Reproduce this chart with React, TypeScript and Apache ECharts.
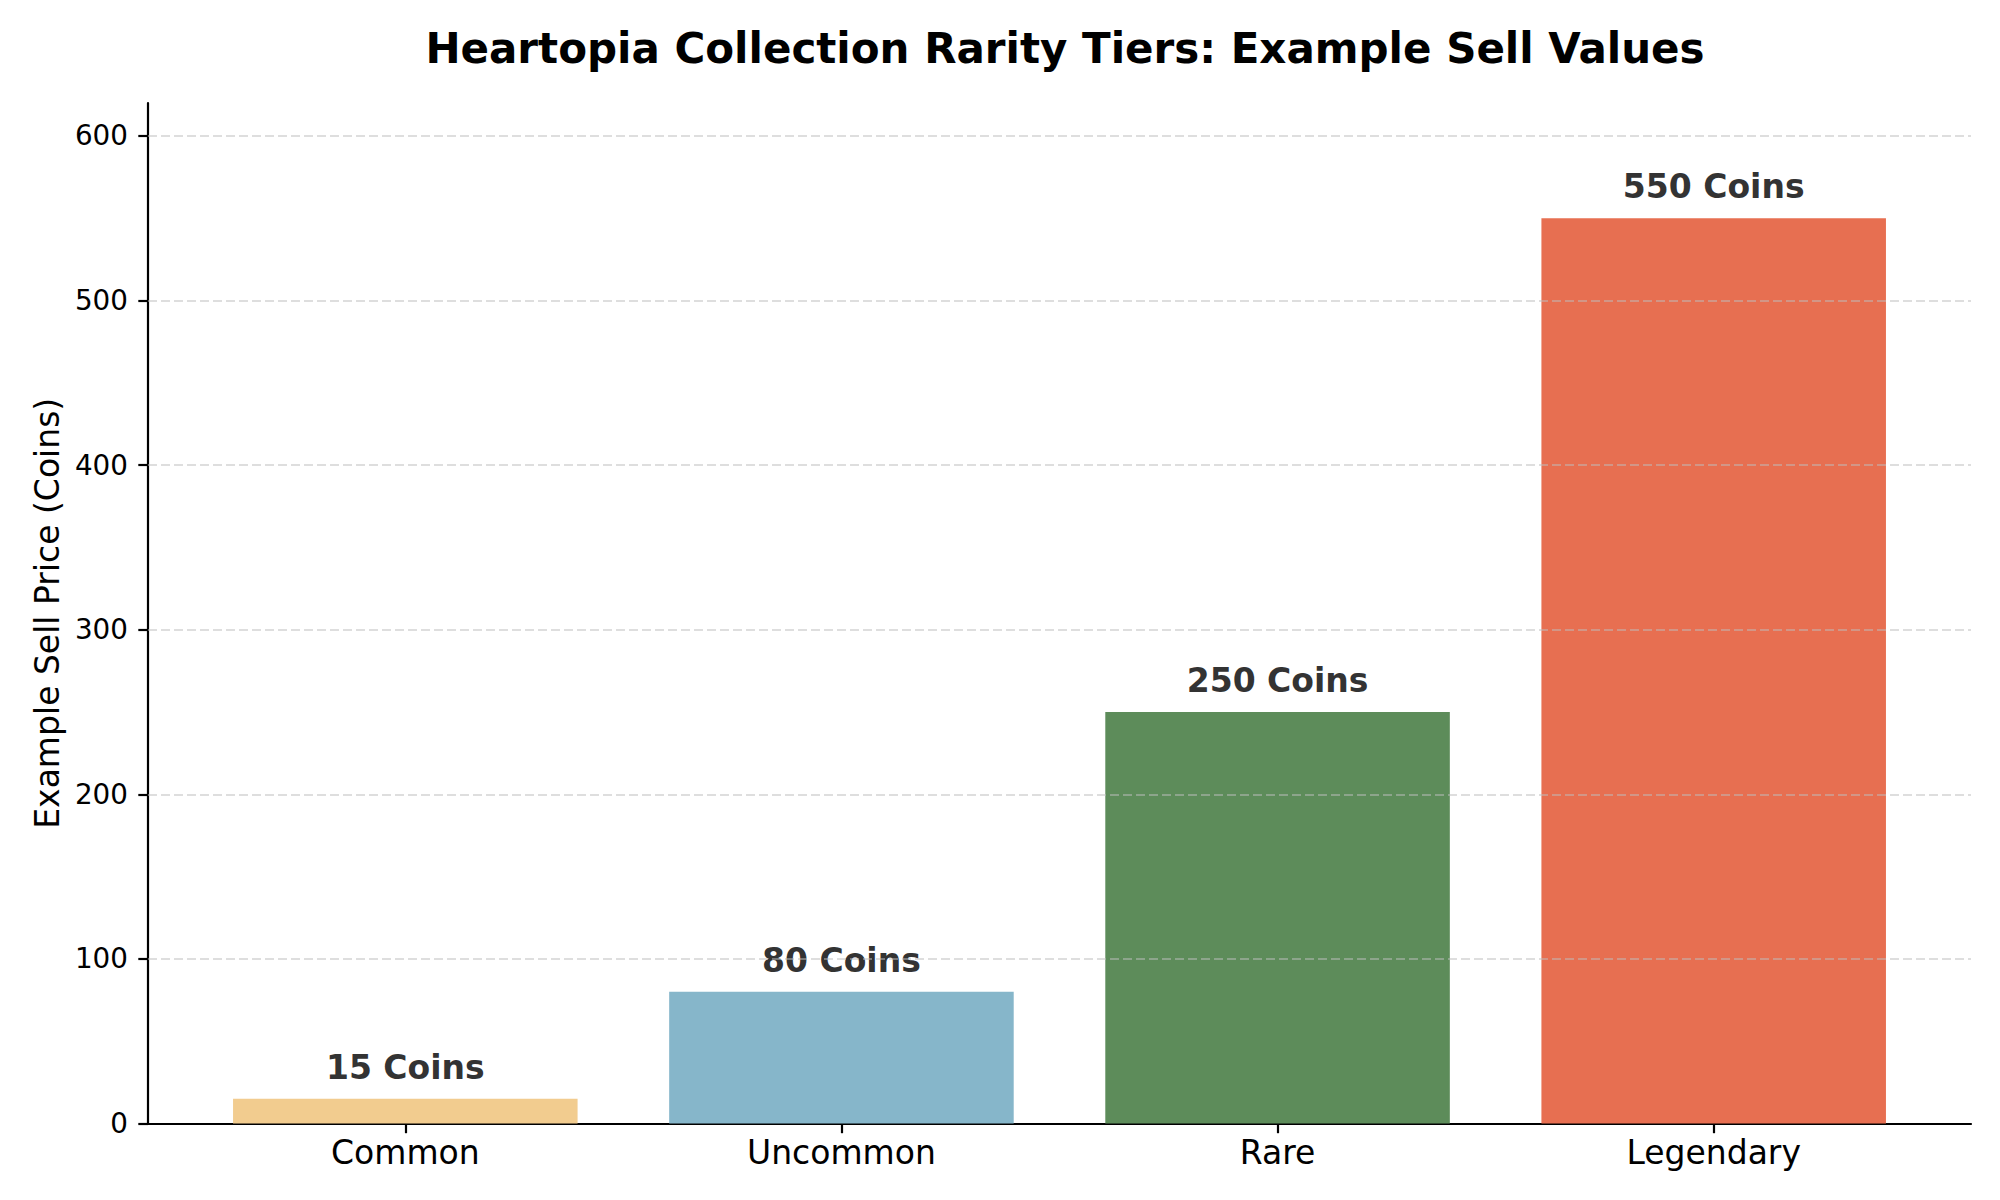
import { useEffect, useRef } from 'react';
import * as echarts from 'echarts';

const categories = ['Common', 'Uncommon', 'Rare', 'Legendary'];
const sellValues = [15, 80, 250, 550];
const barColors = ['#F2CC8F', '#86B6CA', '#5D8C5A', '#E76F51'];
const yTicks = [0, 100, 200, 300, 400, 500, 600];
const xTicks = [0, 1, 2, 3];

const FONT = 'DejaVu Sans';

export default function App() {
  const chartRef = useRef<HTMLDivElement>(null);

  useEffect(() => {
    document.body.style.margin = '0';
    if (!chartRef.current) return;
    const chart = echarts.init(chartRef.current, null, { renderer: 'svg' });

    const option: echarts.EChartsOption = {
      animation: false,
      backgroundColor: '#ffffff',
      textStyle: { fontFamily: FONT },
      title: {
        text: 'Heartopia Collection Rarity Tiers: Example Sell Values',
        left: 1060,
        top: 22,
        textAlign: 'center',
        textStyle: { fontFamily: FONT, fontSize: 42, fontWeight: 'bold', color: '#000' }
      },
      grid: { left: 148, right: 29, top: 103, bottom: 76.5 },
      xAxis: {
        type: 'value',
        min: -0.59,
        max: 3.59,
        axisLine: { show: true, onZero: false, lineStyle: { color: '#000', width: 2.2 } },
        axisTick: { show: true, customValues: xTicks, length: 9.7, lineStyle: { color: '#000', width: 2.2 } },
        axisLabel: {
          customValues: xTicks,
          formatter: (v: number) => categories[Math.round(v)] ?? '',
          fontFamily: FONT,
          fontSize: 33,
          color: '#000',
          margin: 12
        },
        splitLine: { show: false }
      },
      yAxis: {
        type: 'value',
        min: 0,
        max: 620,
        name: 'Example Sell Price (Coins)',
        nameLocation: 'middle',
        nameGap: 84,
        nameTextStyle: { fontFamily: FONT, fontSize: 33, color: '#000' },
        axisLine: { show: true, onZero: false, lineStyle: { color: '#000', width: 2.2 } },
        axisTick: { show: true, customValues: yTicks, length: 9.7, lineStyle: { color: '#000', width: 2.2 } },
        axisLabel: {
          customValues: yTicks,
          fontFamily: FONT,
          fontSize: 27.8,
          color: '#000',
          margin: 20
        },
        splitLine: { show: false }
      },
      series: [
        {
          type: 'bar',
          barWidth: '79%',
          data: sellValues.map((v, i) => ({
            value: [i, v],
            itemStyle: { color: barColors[i] }
          })),
          label: {
            show: true,
            position: 'top',
            distance: 15,
            formatter: (p: any) => `${p.value[1]} Coins`,
            fontFamily: FONT,
            fontSize: 33,
            fontWeight: 'bold',
            color: '#333333'
          },
          markLine: {
            silent: true,
            symbol: 'none',
            label: { show: false },
            lineStyle: { type: [9, 4], color: 'rgba(190,190,190,0.5)', width: 2 },
            data: yTicks.filter((t) => t > 0).map((t) => ({ yAxis: t }))
          }
        }
      ]
    };

    chart.setOption(option);
    return () => chart.dispose();
  }, []);

  return <div ref={chartRef} style={{ width: 2000, height: 1200 }} />;
}
